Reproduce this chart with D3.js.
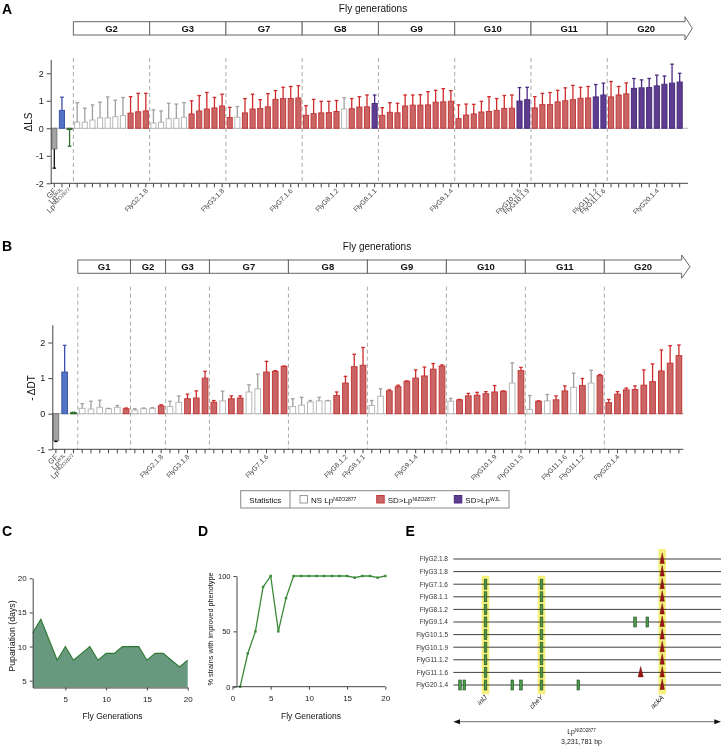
<!DOCTYPE html>
<html><head><meta charset="utf-8">
<script src="https://cdn.jsdelivr.net/npm/d3@7"></script>
<style>body{margin:0;background:#fff;} svg{display:block;will-change:transform;-webkit-font-smoothing:antialiased;}</style>
</head><body><svg id="c" width="722" height="748"></svg>
<script>
// ================= DATA =================
// controls (shared by A and B)
const ctrlKeys = ["gf","wjl","nizo"];
const ctrlLabelBase = ["GF","Lp","Lp"];
const ctrlLabelSup = ["","WJL","NIZO2877"];
// Panel A (ΔLS)
const ctrlA = [-0.75, 0.65, -0.03];
const ctrlAerr = [-1.45, 1.13, -0.65];
const gensA = ["G2","G3","G7","G8","G9","G10","G11","G20"];
const aG2 = [0.22,0.22,0.30,0.38,0.38,0.42,0.46,0.55,0.60,0.63];
const aG2e = [0.93,0.73,0.85,0.95,1.14,1.02,1.12,1.15,1.27,1.27];
const aG2c = "nnnnnnnrrr";
const aG3 = [0.19,0.22,0.35,0.36,0.40,0.52,0.63,0.70,0.74,0.81];
const aG3e = [0.67,0.63,0.91,0.88,0.93,1.00,1.19,1.30,1.12,1.24];
const aG3c = "nnnnnrrrrr";
const aG7 = [0.39,0.40,0.56,0.70,0.72,0.78,1.05,1.08,1.08,1.10];
const aG7e = [0.76,0.79,1.08,1.24,1.04,1.26,1.37,1.49,1.52,1.55];
const aG7c = "rnrrrrrrrr";
const aG8 = [0.47,0.53,0.56,0.57,0.61,0.70,0.71,0.77,0.78,0.90];
const aG8e = [0.82,1.05,0.98,0.98,1.01,1.11,1.08,1.15,1.21,1.21];
const aG8c = "rrrrrnrrrp";
const aG9 = [0.47,0.58,0.56,0.81,0.84,0.84,0.85,0.95,0.96,0.98];
const aG9e = [0.75,0.93,0.91,1.21,1.21,1.22,1.33,1.38,1.44,1.37];
const aG9c = "rrrrrrrrrr";
const aG10 = [0.35,0.48,0.52,0.59,0.61,0.65,0.72,0.73,0.99,1.04];
const aG10e = [0.85,0.88,0.87,0.98,1.15,1.08,1.19,1.21,1.48,1.49];
const aG10c = "rrrrrrrrpp";
const aG11 = [0.74,0.86,0.86,0.96,1.00,1.04,1.09,1.10,1.14,1.21];
const aG11e = [1.15,1.27,1.30,1.38,1.47,1.56,1.49,1.52,1.59,1.64];
const aG11c = "rrrrrrrrpp";
const aG20 = [1.14,1.21,1.25,1.45,1.47,1.48,1.54,1.60,1.64,1.68];
const aG20e = [1.70,1.52,1.65,1.81,1.76,1.81,1.93,1.90,2.33,2.00];
const aG20c = "rrrppppppp";
const labelsA = [["G2",9,"FlyG2.1.8"],["G3",9,"FlyG3.1.8"],["G7",8,"FlyG7.1.6"],["G8",4,"FlyG8.1.2"],["G8",9,"FlyG8.1.1"],["G9",9,"FlyG9.1.4"],["G10",8,"FlyG10.1.5"],["G10",9,"FlyG10.1.9"],["G11",8,"FlyG11.1.2"],["G11",9,"FlyG11.1.6"],["G20",6,"FlyG20.1.4"]];
const yTicksA = [-2,-1,0,1,2];

// Panel B (-ΔDT)
const ctrlB = [-0.75, 1.17, 0.03];
const ctrlBerr = [-0.78, 1.92, 0.04];
const gensB = ["G1","G2","G3","G7","G8","G9","G10","G11","G20"];
const bG1 = [0.15,0.13,0.18,0.14,0.18,0.14];
const bG1e = [0.28,0.35,0.38,0.15,0.23,0.16];
const bG1c = "nnnnnr";
const bG2 = [0.10,0.14,0.15,0.22];
const bG2e = [0.14,0.16,0.17,0.25];
const bG2c = "nnnr";
const bG3 = [0.20,0.32,0.42,0.44,1.00];
const bG3e = [0.35,0.50,0.55,0.64,1.19];
const bG3c = "nnrrr";
const bG7 = [0.32,0.36,0.42,0.44,0.61,0.70,1.17,1.19,1.33];
const bG7e = [0.37,0.63,0.50,0.50,0.81,1.11,1.47,1.21,1.34];
const bG7c = "rnrrnnrrr";
const bG8 = [0.20,0.24,0.33,0.36,0.36,0.51,0.86,1.32,1.36];
const bG8e = [0.42,0.46,0.37,0.46,0.37,0.61,1.05,1.67,1.86];
const bG8c = "nnnnnrrrr";
const bG9 = [0.23,0.49,0.64,0.76,0.91,1.00,1.06,1.25,1.34];
const bG9e = [0.37,0.70,0.67,0.80,0.92,1.23,1.31,1.41,1.37];
const bG9c = "nnrrrrrrr";
const bG10 = [0.35,0.39,0.50,0.52,0.56,0.61,0.63,0.86,1.21];
const bG10e = [0.43,0.40,0.57,0.60,0.62,0.79,0.64,1.43,1.30];
const bG10c = "nrrrrrrnr";
const bG11 = [0.12,0.35,0.36,0.39,0.64,0.74,0.79,0.86,1.07];
const bG11e = [0.51,0.36,0.54,0.50,0.78,1.14,0.99,1.22,1.10];
const bG11c = "nrnrrnrnr";
const bG20 = [0.31,0.55,0.67,0.68,0.80,0.90,1.20,1.42,1.63];
const bG20e = [0.40,0.62,0.72,0.78,1.23,1.40,1.79,1.91,1.93];
const bG20c = "rrrrrrrrr";
const labelsB = [["G2",3,"FlyG2.1.8"],["G3",2,"FlyG3.1.8"],["G7",6,"FlyG7.1.6"],["G8",6,"FlyG8.1.2"],["G8",8,"FlyG8.1.1"],["G9",5,"FlyG9.1.4"],["G10",5,"FlyG10.1.9"],["G10",8,"FlyG10.1.5"],["G11",4,"FlyG11.1.6"],["G11",6,"FlyG11.1.2"],["G20",1,"FlyG20.1.4"]];
const yTicksB = [-1,0,1,2];

// Legend
const legendKeys = ["n","r","p"];
const legendBase = ["NS Lp","SD>Lp","SD>Lp"];
const legendSup = ["NIZO2877","NIZO2877","WJL"];

// Panel C / D
const flyGen = [1,2,3,4,5,6,7,8,9,10,11,12,13,14,15,16,17,18,19,20];
const pupDays = [12,14,11,8,10,8,9,10,8,9,9,10,10,10,8,9,9,8,7,8];
const pctImproved = [0,30,50,90,100,50,80,100,100,100,100,100,100,100,100,98.5,100,100,98.5,100];
const cTicks = [5,10,15,20];
const dTicksX = [0,5,10,15,20];
const dTicksY = [0,50,100];

// Panel E
const eStrains = ["FlyG2.1.8","FlyG3.1.8","FlyG7.1.6","FlyG8.1.1","FlyG8.1.2","FlyG9.1.4","FlyG10.1.5","FlyG10.1.9","FlyG11.1.2","FlyG11.1.6","FlyG20.1.4"];
const genomeSize = 3231781;
const eGeneNames = ["inlJ","cheY","ackA"];
const eGenePos = [389000, 1065000, 2522000];
const eGeneFirstRow = [2, 2, 0];
const eSnpRow = [2,3,4,5,6,7,8,9,10, 2,3,4,5,6,7,8,9,10, 5,5, 10,10,10,10,10];
const eSnpPos = [389000,389000,389000,389000,389000,389000,389000,389000,389000,
                 1065000,1065000,1065000,1065000,1065000,1065000,1065000,1065000,1065000,
                 2194000,2342000, 81000,133000,712000,817000,1509000];
const eInsRow = [0,1,2,3,4,5,6,7,8,9,10,9];
const eInsPos = [2522000,2522000,2522000,2522000,2522000,2522000,2522000,2522000,2522000,2522000,2522000,2262000];

// ================= DRAW =================
const FONT = "'Liberation Sans', Arial, Helvetica, sans-serif";
const svg = d3.select("#c").attr("font-family", FONT);
const fills = {n:"#ffffff", r:"#c96565", p:"#5e3c8f", gf:"#a3a3a3", wjl:"#5273c6", nizo:"#2f6e2f"};
const strokes = {n:"#b8b8b8", r:"#c43a3a", p:"#4b2c7c", gf:"#7a7a7a", wjl:"#3d58a8", nizo:"#2f6e2f"};
const errCols = {n:"#a0a0a0", r:"#cf2b2b", p:"#4a2a82", gf:"#111111", wjl:"#3a4ea8", nizo:"#2f6e2f"};
const AX = "#444";
const plainNum = d => String(d);

function rich(t, base, sup, supSize) {
  t.append("tspan").text(base);
  if (sup) t.append("tspan").attr("font-size", supSize).attr("dy", "-0.45em").text(sup);
}

function styleAxis(g, fs) {
  g.selectAll("path,line").attr("stroke", AX).attr("stroke-width", 1);
  g.selectAll("text").attr("font-family", FONT).attr("font-size", fs).attr("fill", "#222");
}

function barPanel(o) {
  const g = svg.append("g");
  const items = [];
  ctrlKeys.forEach((k, i) => items.push({id: "c" + i, v: o.ctrl[i], e: o.ctrlErr[i], c: k, base: ctrlLabelBase[i], sup: ctrlLabelSup[i]}));
  o.gens.forEach((gn, gi) => o.means[gi].forEach((v, j) => items.push({id: gn + "-" + j, v, e: o.errs[gi][j], c: o.cls[gi][j], gen: gn, j})));
  o.labels.forEach(([gn, j, t]) => { const it = items.find(d => d.gen === gn && d.j === j); if (it) it.base = t; });

  const x = d3.scaleBand().domain(items.map(d => d.id)).range([o.x0, o.x1]).paddingInner(o.pad).paddingOuter(o.pad / 2);
  const y = d3.scaleLinear().domain(o.yDom).range([o.yBot, o.yTop]);
  const step = x.step(), bw = x.bandwidth();

  const bounds = [];
  let k = ctrlKeys.length;
  o.gens.forEach((gn, gi) => { bounds.push(o.x0 + k * step); k += o.means[gi].length; });

  g.append("text").attr("x", o.titleX).attr("y", o.titleY).attr("text-anchor", "middle").attr("font-size", 10).attr("fill", "#111").text("Fly generations");
  o.gens.forEach((gn, gi) => {
    const a = bounds[gi];
    const last = gi === o.gens.length - 1;
    const b = last ? o.arrowBase : bounds[gi + 1];
    if (!last) {
      g.append("rect").attr("x", a).attr("y", o.boxTop).attr("width", b - a).attr("height", o.boxBot - o.boxTop)
        .attr("fill", "#fff").attr("stroke", "#666").attr("stroke-width", 1);
    } else {
      const mid = (o.boxTop + o.boxBot) / 2;
      const pts = [[a, o.boxTop], [b, o.boxTop], [b, o.arrowTop], [o.arrowTip, mid], [b, o.arrowBot], [b, o.boxBot], [a, o.boxBot]];
      g.append("polygon").attr("points", pts.map(p => p.join(",")).join(" ")).attr("fill", "#fff").attr("stroke", "#666").attr("stroke-width", 1);
    }
    g.append("text").attr("x", (a + b) / 2).attr("y", (o.boxTop + o.boxBot) / 2 + 3.5).attr("text-anchor", "middle")
      .attr("font-size", 9.5).attr("font-weight", "bold").attr("fill", "#111").text(gn);
  });

  bounds.forEach(bx => g.append("line").attr("x1", bx).attr("x2", bx).attr("y1", o.dashTop).attr("y2", o.yBot)
    .attr("stroke", "#aaa").attr("stroke-width", 1).attr("stroke-dasharray", "4,3"));

  g.append("line").attr("x1", o.yAxisX).attr("x2", o.axisEnd).attr("y1", y(0)).attr("y2", y(0))
    .attr("stroke", "#777").attr("stroke-width", 1).attr("stroke-dasharray", "1,1");

  items.forEach(d => {
    const y0 = y(0), yv = y(d.v);
    const top = Math.min(y0, yv), h = Math.max(1.2, Math.abs(yv - y0));
    g.append("rect").attr("x", x(d.id) + 0.5).attr("y", top).attr("width", bw - 1).attr("height", h)
      .attr("fill", fills[d.c]).attr("stroke", strokes[d.c]).attr("stroke-width", 1);
    const cx = x(d.id) + bw / 2;
    g.append("line").attr("x1", cx).attr("x2", cx).attr("y1", yv).attr("y2", y(d.e)).attr("stroke", errCols[d.c]).attr("stroke-width", 1.3);
    g.append("line").attr("x1", cx - 1.8).attr("x2", cx + 1.8).attr("y1", y(d.e)).attr("y2", y(d.e)).attr("stroke", errCols[d.c]).attr("stroke-width", 1.3);
  });

  const ya = g.append("g").attr("transform", `translate(${o.yAxisX},0)`).call(d3.axisLeft(y).tickValues(o.yTicks).tickSize(4).tickSizeOuter(0).tickFormat(plainNum));
  styleAxis(ya, 9);
  g.append("line").attr("x1", o.yAxisX).attr("x2", o.axisEnd).attr("y1", o.yBot).attr("y2", o.yBot).attr("stroke", AX).attr("stroke-width", 1);
  items.forEach(d => {
    const cx = x(d.id) + bw / 2;
    g.append("line").attr("x1", cx).attr("x2", cx).attr("y1", o.yBot).attr("y2", o.yBot + 4).attr("stroke", AX).attr("stroke-width", 1);
    if (d.base) {
      const t = g.append("text").attr("transform", `translate(${cx + 2.5},${o.yBot + 8}) rotate(-45)`)
        .attr("text-anchor", "end").attr("font-size", d.sup !== undefined ? 7.5 : 6.8).attr("fill", "#444");
      rich(t, d.base, d.sup, 5);
    }
  });
  g.append("text").attr("transform", `translate(${o.yLabelX},${o.yLabelY}) rotate(-90)`).attr("text-anchor", "middle")
    .attr("font-size", 10).attr("fill", "#111").text(o.yLabel);
  g.append("text").attr("x", 2).attr("y", o.letterY).attr("font-size", 14).attr("font-weight", "bold").text(o.letter);
  return {x, y};
}

barPanel({
  letter: "A", letterY: 14,
  ctrl: ctrlA, ctrlErr: ctrlAerr, gens: gensA,
  means: [aG2, aG3, aG7, aG8, aG9, aG10, aG11, aG20],
  errs: [aG2e, aG3e, aG7e, aG8e, aG9e, aG10e, aG11e, aG20e],
  cls: [aG2c, aG3c, aG7c, aG8c, aG9c, aG10c, aG11c, aG20c],
  labels: labelsA, yTicks: yTicksA, yLabel: "ΔLS", yLabelX: 31.5, yLabelY: 122,
  x0: 50.5, x1: 683.5, pad: 0.2, yAxisX: 50.7, axisEnd: 688,
  yDom: [-2, 2.5], yBot: 183.3, yTop: 59.5,
  titleX: 373, titleY: 12, boxTop: 21.7, boxBot: 35, arrowTop: 16.7, arrowBot: 40, arrowBase: 685, arrowTip: 692.3, dashTop: 58
});

barPanel({
  letter: "B", letterY: 251,
  ctrl: ctrlB, ctrlErr: ctrlBerr, gens: gensB,
  means: [bG1, bG2, bG3, bG7, bG8, bG9, bG10, bG11, bG20],
  errs: [bG1e, bG2e, bG3e, bG7e, bG8e, bG9e, bG10e, bG11e, bG20e],
  cls: [bG1c, bG2c, bG3c, bG7c, bG8c, bG9c, bG10c, bG11c, bG20c],
  labels: labelsB, yTicks: yTicksB, yLabel: "- ΔDT", yLabelX: 35, yLabelY: 388,
  x0: 51.5, x1: 683.3, pad: 0.24, yAxisX: 52.3, axisEnd: 683.3,
  yDom: [-1, 2.5], yBot: 449.3, yTop: 324.7,
  titleX: 377, titleY: 250, boxTop: 260, boxBot: 273.3, arrowTop: 255, arrowBot: 278.3, arrowBase: 681.7, arrowTip: 690, dashTop: 286.7
});

// Legend
(function () {
  const g = svg.append("g");
  const L = 240.7, R = 509, T = 490.7, B = 508, D = 290;
  g.append("rect").attr("x", L).attr("y", T).attr("width", R - L).attr("height", B - T).attr("fill", "#fff").attr("stroke", "#888").attr("stroke-width", 1);
  g.append("line").attr("x1", D).attr("x2", D).attr("y1", T).attr("y2", B).attr("stroke", "#888");
  g.append("text").attr("x", (L + D) / 2).attr("y", 502.5).attr("text-anchor", "middle").attr("font-size", 8).attr("fill", "#111").text("Statistics");
  const sx = [300, 376.7, 454.3];
  legendKeys.forEach((k, i) => {
    g.append("rect").attr("x", sx[i]).attr("y", 495.5).attr("width", 7.5).attr("height", 7.5).attr("fill", fills[k]).attr("stroke", k === "n" ? "#999" : strokes[k]);
    const t = g.append("text").attr("x", sx[i] + 11).attr("y", 503).attr("font-size", 8).attr("fill", "#111");
    rich(t, legendBase[i], legendSup[i], 5);
  });
})();

// Panel C
(function () {
  const g = svg.append("g");
  const x = d3.scaleLinear().domain([1, 20]).range([32.7, 187.7]);
  const y = d3.scaleLinear().domain([4, 20]).range([687.5, 578.3]);
  const area = d3.area().x((d, i) => x(flyGen[i])).y0(y(4)).y1(d => y(d));
  const line = d3.line().x((d, i) => x(flyGen[i])).y(d => y(d));
  g.append("path").datum(pupDays).attr("d", area).attr("fill", "#68997f");
  g.append("path").datum(pupDays).attr("d", line).attr("fill", "none").attr("stroke", "#2f7a32").attr("stroke-width", 1.2);
  const ya = g.append("g").attr("transform", `translate(${x(1)},0)`).call(d3.axisLeft(y).tickValues(cTicks).tickSize(3).tickSizeOuter(0));
  styleAxis(ya, 8);
  const xa = g.append("g").attr("transform", `translate(0,${y(4)})`).call(d3.axisBottom(x).tickValues(cTicks).tickSize(3).tickSizeOuter(0));
  styleAxis(xa, 8);
  xa.selectAll("text").attr("dy", "1.1em");
  g.append("text").attr("transform", `translate(15,636) rotate(-90)`).attr("text-anchor", "middle").attr("font-size", 8.8).attr("fill", "#111").text("Pupariation (days)");
  g.append("text").attr("x", 112.5).attr("y", 719).attr("text-anchor", "middle").attr("font-size", 8.5).attr("fill", "#111").text("Fly Generations");
  g.append("text").attr("x", 2).attr("y", 536).attr("font-size", 14).attr("font-weight", "bold").text("C");
})();

// Panel D
(function () {
  const g = svg.append("g");
  const x = d3.scaleLinear().domain([0, 20]).range([232.5, 385.3]);
  const y = d3.scaleLinear().domain([0, 100]).range([686.7, 576]);
  const line = d3.line().x((d, i) => x(flyGen[i])).y(d => y(d));
  g.append("path").datum(pctImproved).attr("d", line).attr("fill", "none").attr("stroke", "#3a8a3a").attr("stroke-width", 1.3);
  g.selectAll("rect.pt").data(pctImproved).enter().append("rect").attr("class", "pt")
    .attr("x", (d, i) => x(flyGen[i]) - 1.2).attr("y", d => y(d) - 1.2).attr("width", 2.4).attr("height", 2.4).attr("fill", "#3a8a3a");
  const ya = g.append("g").attr("transform", `translate(236.5,0)`).call(d3.axisLeft(y).tickValues(dTicksY).tickSize(3).tickSizeOuter(0));
  styleAxis(ya, 7.5);
  const xa = g.append("g").attr("transform", `translate(0,${y(0)})`).call(d3.axisBottom(x).tickValues(dTicksX).tickSize(3).tickSizeOuter(0));
  styleAxis(xa, 8);
  xa.select(".domain").attr("d", `M${x(0)},0H${x(20)}`);
  xa.selectAll("text").attr("dy", "1.1em");
  g.append("text").attr("transform", `translate(212.5,629) rotate(-90)`).attr("text-anchor", "middle").attr("font-size", 7.3).attr("fill", "#111").text("% strains with improved phenotype");
  g.append("text").attr("x", 311).attr("y", 719).attr("text-anchor", "middle").attr("font-size", 8.5).attr("fill", "#111").text("Fly Generations");
  g.append("text").attr("x", 198).attr("y", 536).attr("font-size", 14).attr("font-weight", "bold").text("D");
})();

// Panel E
(function () {
  const g = svg.append("g");
  const x = d3.scaleLinear().domain([0, genomeSize]).range([453.3, 721]);
  const y = d3.scalePoint().domain(eStrains).range([559, 685]);
  const rowY = i => y(eStrains[i]);
  eGenePos.forEach((p, i) => {
    const top = rowY(eGeneFirstRow[i]) - (eGeneFirstRow[i] === 0 ? 10 : 8.5);
    g.append("rect").attr("x", x(p) - 3.8).attr("y", top).attr("width", 7.6).attr("height", rowY(eStrains.length - 1) + 9.3 - top).attr("fill", "#f6f07c");
  });
  eStrains.forEach((s, i) => {
    g.append("line").attr("x1", 453.3).attr("x2", 721).attr("y1", rowY(i)).attr("y2", rowY(i)).attr("stroke", "#2a2a2a").attr("stroke-width", 0.9);
    g.append("text").attr("x", 448).attr("y", rowY(i) + 2.3).attr("text-anchor", "end").attr("font-size", 6.5).attr("fill", "#333").text(s);
  });
  eSnpRow.forEach((r, i) => {
    g.append("rect").attr("x", x(eSnpPos[i]) - 1.3).attr("y", rowY(r) - 5).attr("width", 2.6).attr("height", 10)
      .attr("fill", "#4a9a4a").attr("stroke", "#1e4a1e").attr("stroke-width", 0.6);
  });
  eInsRow.forEach((r, i) => {
    const cx = x(eInsPos[i]), cy = rowY(r);
    const w = i === eInsRow.length - 1 ? 2.6 : 2.2;
    g.append("polygon").attr("points", `${cx - w},${cy + 4.5} ${cx},${cy - 6} ${cx + w},${cy + 4.5}`).attr("fill", "#9e1414").attr("stroke", "#5a0808").attr("stroke-width", 0.4);
  });
  eGeneNames.forEach((n, i) => {
    g.append("text").attr("transform", `translate(${x(eGenePos[i]) + 2},${698}) rotate(-45)`).attr("text-anchor", "end")
      .attr("font-size", 7).attr("font-style", "italic").attr("fill", "#222").text(n);
  });
  const ay = 721.7;
  g.append("line").attr("x1", 456).attr("x2", 718).attr("y1", ay).attr("y2", ay).attr("stroke", "#888").attr("stroke-width", 1.2);
  g.append("polygon").attr("points", `453.3,${ay} 460,${ay - 2.5} 460,${ay + 2.5}`).attr("fill", "#111");
  g.append("polygon").attr("points", `721,${ay} 714.3,${ay - 2.5} 714.3,${ay + 2.5}`).attr("fill", "#111");
  const t = g.append("text").attr("x", 581.5).attr("y", 734).attr("text-anchor", "middle").attr("font-size", 7).attr("fill", "#222");
  rich(t, "Lp", "NIZO2877", 4.5);
  g.append("text").attr("x", 581.5).attr("y", 744).attr("text-anchor", "middle").attr("font-size", 7).attr("fill", "#222").text("3,231,781 bp");
  g.append("text").attr("x", 405.5).attr("y", 536).attr("font-size", 14).attr("font-weight", "bold").text("E");
})();
</script>
</body></html>
